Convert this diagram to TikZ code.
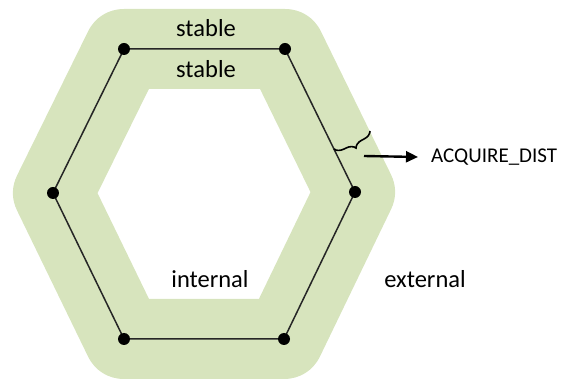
\documentclass[tikz,border=0pt]{standalone}
\usepackage{fontspec}
\setmainfont{Carlito}
\usetikzlibrary{decorations.pathreplacing,arrows.meta}
\definecolor{band}{HTML}{D7E4BD}
\begin{document}
\begin{tikzpicture}[x=1pt,y=-1pt,
  bandstroke/.style={draw=band,line width=80pt,line join=round},
  edge/.style={draw=black!85,line width=1.5pt},
  vdot/.style={circle,fill=black,inner sep=0pt,minimum size=12pt},
  lbl/.style={font=\fontsize{24.5}{29}\selectfont,inner sep=0pt,text=black},
]
\useasboundingbox (0,0) rectangle (563,379);
\coordinate (tl) at (124,49);
\coordinate (tr) at (285,49);
\coordinate (r) at (355,192);
\coordinate (br) at (284,339);
\coordinate (bl) at (124,339);
\coordinate (l) at (53,193);
\path[bandstroke] (tl) -- (tr) -- (r) -- (br) -- (bl) -- (l) -- cycle;
\path[edge] (tl) -- (tr) -- (r) -- (br) -- (bl) -- (l) -- cycle;
\foreach \v in {tl,tr,r,br,bl,l} \node[vdot] (d\v) at (\v) {};
\node[lbl] (s1) at (206,28) {stable};
\node[lbl] (s2) at (206,69) {stable};
\node[lbl] (int) at (210,279) {internal};
\node[lbl] (ext) at (425,279) {external};
\coordinate (bo) at (370,131);
\coordinate (bi) at (334,149);
\draw[decorate,decoration={brace,amplitude=9pt},line width=1.6pt] (bo) -- (bi);
\coordinate (as) at (364,156);
\node[anchor=west,inner xsep=13pt,inner ysep=0pt,font=\fontsize{21}{25}\selectfont,text=black] (acq) at (418,157) {ACQUIRE\_DIST};
\draw[line width=2.4pt,-{Triangle[length=12pt,width=11pt]}] (as) -- (acq.west);
\end{tikzpicture}
\end{document}
